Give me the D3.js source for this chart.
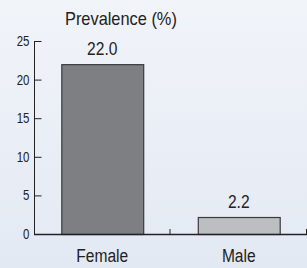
<!DOCTYPE html>
<html>
<head>
<meta charset="utf-8">
<script src="https://cdn.jsdelivr.net/npm/d3@7"></script>
<style>
  html, body { margin: 0; padding: 0; background: #eaeff7; }
  svg { display: block; }
  text { font-family: "Liberation Sans", Arial, sans-serif; fill: #222; }
</style>
</head>
<body>
<div id="chart"></div>
<script>
const categories = ['Female', 'Male'];
const values = [22.0, 2.2];
const valueLabels = ['22.0', '2.2'];
const yTicks = [0, 5, 10, 15, 20, 25];
const barColors = ['#7e7f82', '#bdbec1'];

const width = 307, height = 268;
const squeeze = 0.82; // condensed look

const svg = d3.select('#chart').append('svg')
  .attr('width', width)
  .attr('height', height);

const defs = svg.append('defs');
const grad = defs.append('linearGradient')
  .attr('id', 'bg').attr('x1', 0).attr('y1', 0).attr('x2', 0).attr('y2', 1);
grad.append('stop').attr('offset', '0%').attr('stop-color', '#f1f4f9');
grad.append('stop').attr('offset', '100%').attr('stop-color', '#e3e9f3');
svg.append('rect').attr('width', width).attr('height', height).attr('fill', 'url(#bg)');

const x = d3.scaleBand()
  .domain(categories)
  .range([34, 307])
  .paddingInner(0.4)
  .paddingOuter(0.2);

const y = d3.scaleLinear()
  .domain([0, 25])
  .range([234, 41]);

// y axis, ticks pointing inward
const yAxis = svg.append('g')
  .attr('transform', 'translate(34.5,0)')
  .call(d3.axisLeft(y).tickValues(yTicks).tickSize(-7).tickPadding(5));
yAxis.select('.domain').attr('d', `M0,${y(25)}V${y(0)}`).attr('stroke', '#222');
yAxis.selectAll('.tick line').attr('stroke', '#222');
yAxis.selectAll('.tick text')
  .style('font-size', '14px')
  .style('font-family', '"Liberation Sans", Arial, sans-serif')
  .attr('fill', '#222')
  .attr('transform', `translate(-5,0) scale(${squeeze},1)`)
  .attr('x', 0);

// bars
svg.selectAll('.bar')
  .data(values)
  .enter()
  .append('rect')
  .attr('class', 'bar')
  .attr('x', (d, i) => x(categories[i]) + 0.5)
  .attr('y', d => y(d) + 0.5)
  .attr('width', x.bandwidth())
  .attr('height', d => y(0) - y(d))
  .attr('fill', (d, i) => barColors[i])
  .attr('stroke', '#3a3a3c')
  .attr('stroke-width', 1.2);

// x axis baseline
const step = x.step();
svg.append('line')
  .attr('x1', 34).attr('x2', width)
  .attr('y1', y(0) + 0.5).attr('y2', y(0) + 0.5)
  .attr('stroke', '#222').attr('stroke-width', 1.3);

// x ticks at band boundaries (pointing up)
svg.selectAll('.xtick')
  .data(categories)
  .enter()
  .append('line')
  .attr('class', 'xtick')
  .attr('x1', d => x(d) - step * 0.2 + step - 0.5)
  .attr('x2', d => x(d) - step * 0.2 + step - 0.5)
  .attr('y1', y(0))
  .attr('y2', y(0) - 5)
  .attr('stroke', '#222');

// category labels
svg.selectAll('.xlabel')
  .data(categories)
  .enter()
  .append('text')
  .attr('class', 'xlabel')
  .attr('transform', d => `translate(${x(d) + x.bandwidth() / 2},262) scale(${squeeze},1)`)
  .attr('text-anchor', 'middle')
  .style('font-size', '19px')
  .text(d => d);

// value labels
svg.selectAll('.vlabel')
  .data(values)
  .enter()
  .append('text')
  .attr('class', 'vlabel')
  .attr('transform', (d, i) => `translate(${x(categories[i]) + x.bandwidth() / 2},${y(d) - 9}) scale(${squeeze},1)`)
  .attr('text-anchor', 'middle')
  .style('font-size', '19px')
  .attr('fill', '#333')
  .text((d, i) => valueLabels[i]);

// axis title
svg.append('text')
  .attr('transform', `translate(65,25) scale(0.91,1)`)
  .style('font-size', '18px')
  .attr('fill', '#333')
  .text('Prevalence (%)');
</script>
</body>
</html>
